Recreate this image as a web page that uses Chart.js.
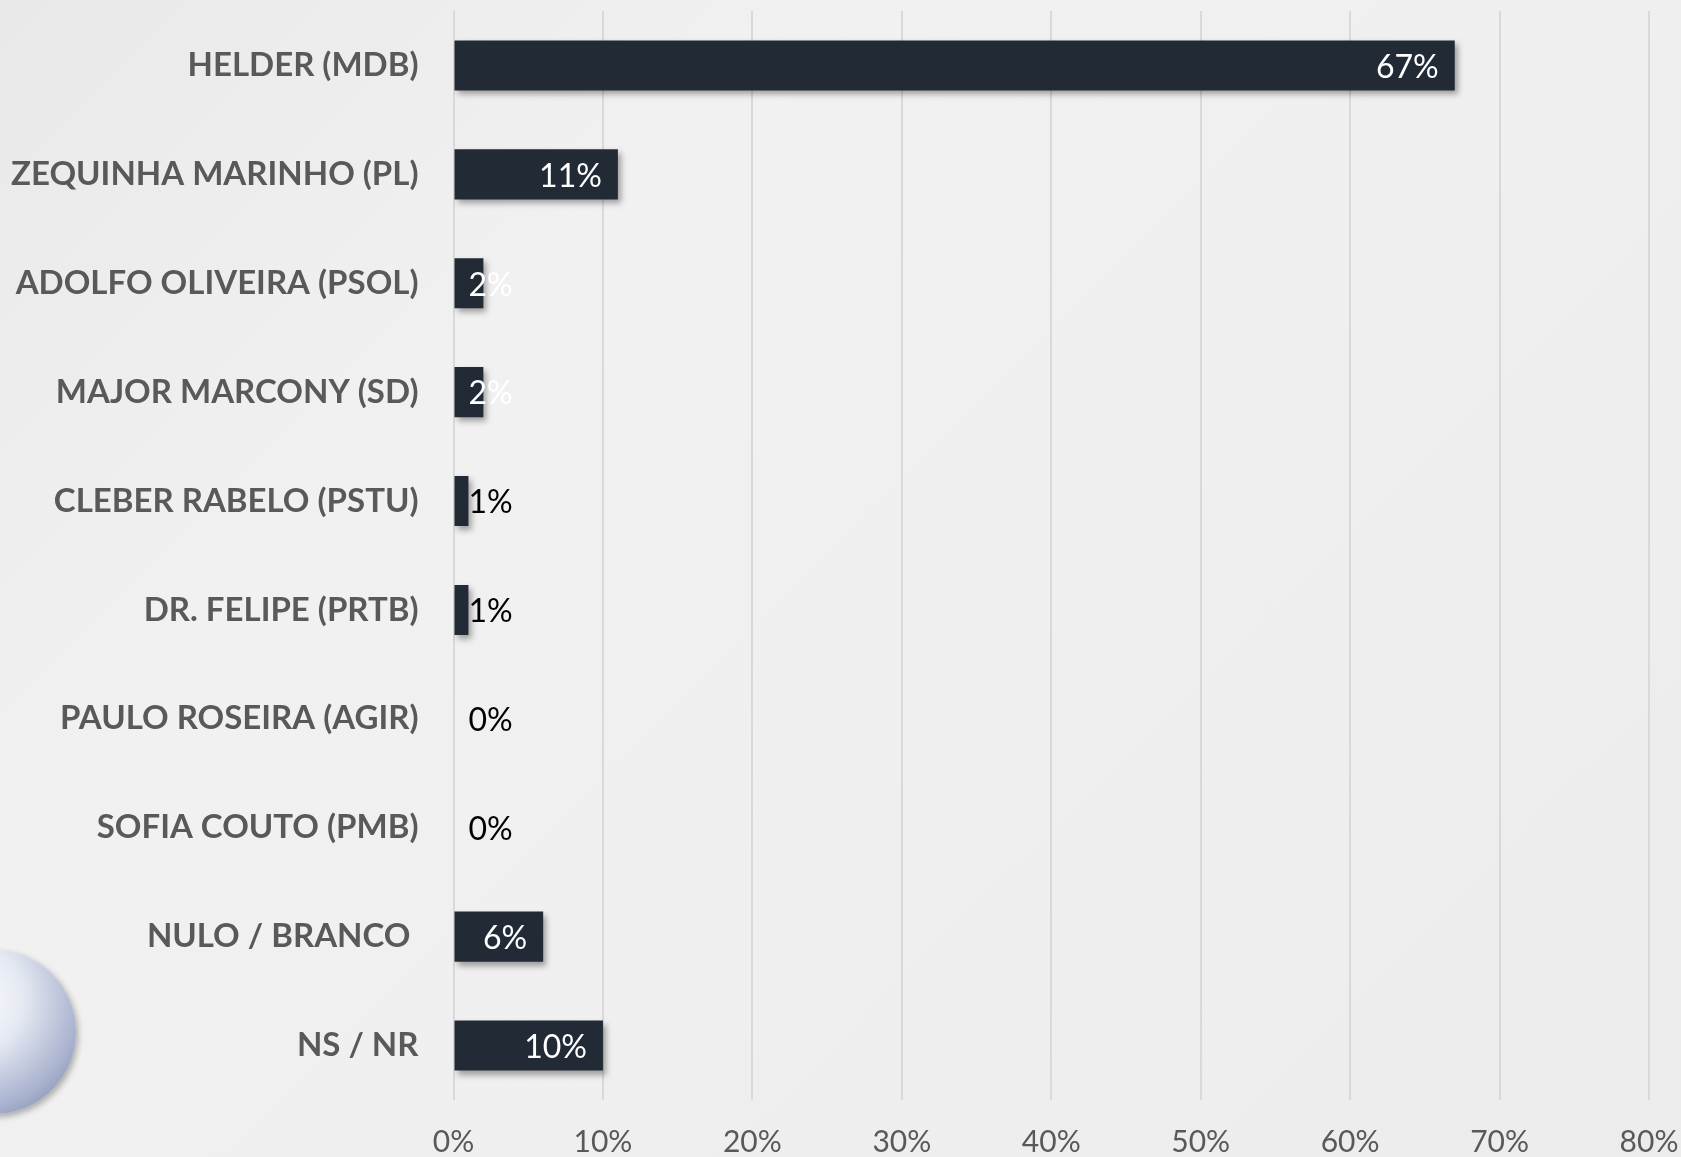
<!DOCTYPE html>
<html>
<head>
<meta charset="utf-8">
<script src="https://cdn.jsdelivr.net/npm/chart.js@4.4.1/dist/chart.umd.min.js"></script>
<style>
  html, body { margin: 0; padding: 0; }
  body {
    width: 1681px; height: 1157px; overflow: hidden; position: relative;
    background: linear-gradient(135deg, #e9e9e9 0%, #f1f1f1 30%, #efefef 60%, #ececec 100%);
  }
  .logo {
    position: absolute; left: -88px; top: 950px; width: 164px; height: 164px; border-radius: 50%;
    background: radial-gradient(circle at 35% 30%, #ffffff 0%, #e4e8f2 35%, #aab3cf 70%, #6f7a9e 100%);
    box-shadow: 2px 3px 6px rgba(0,0,0,0.3);
  }
  #wrap { position: absolute; left: 0; top: 0; width: 1681px; height: 1157px; }
</style>
</head>
<body>
<div class="logo"></div>
<div id="wrap"><canvas id="chart"></canvas></div>
<script>
const categories = [
  'HELDER (MDB)',
  'ZEQUINHA MARINHO (PL)',
  'ADOLFO OLIVEIRA (PSOL)',
  'MAJOR MARCONY (SD)',
  'CLEBER RABELO (PSTU)',
  'DR. FELIPE (PRTB)',
  'PAULO ROSEIRA (AGIR)',
  'SOFIA COUTO (PMB)',
  'NULO / BRANCO ',
  'NS / NR'
];
const values = [67, 11, 2, 2, 1, 1, 0, 0, 6, 10];
const labelColors = ['#ffffff', '#ffffff', '#ffffff', '#ffffff', '#000000', '#000000', '#000000', '#000000', '#ffffff', '#ffffff'];
const xTicks = [0, 10, 20, 30, 40, 50, 60, 70, 80];

const barShadow = {
  id: 'barShadow',
  beforeDatasetsDraw(chart) {
    const ctx = chart.ctx;
    ctx.save();
    ctx.shadowColor = 'rgba(0,0,0,0.35)';
    ctx.shadowBlur = 6;
    ctx.shadowOffsetX = 3;
    ctx.shadowOffsetY = 4;
  },
  afterDatasetsDraw(chart) {
    chart.ctx.restore();
  }
};

// value labels at inside end of each bar
const valueLabels = {
  id: 'valueLabels',
  afterDraw(chart) {
    const ctx = chart.ctx;
    const meta = chart.getDatasetMeta(0);
    const xs = chart.scales.x;
    ctx.save();
    ctx.font = '32px Lato, "Open Sans", sans-serif';
    ctx.textAlign = 'right';
    ctx.textBaseline = 'middle';
    meta.data.forEach((bar, i) => {
      const txt = values[i] + '%';
      const w = ctx.measureText(txt).width;
      const x = Math.max(xs.getPixelForValue(values[i]) - 16, xs.getPixelForValue(0) + 15 + w);
      ctx.fillStyle = labelColors[i];
      ctx.fillText(txt, x, bar.y + 2);
    });
    ctx.restore();
  }
};

new Chart(document.getElementById('chart'), {
  type: 'bar',
  data: {
    labels: categories,
    datasets: [{
      data: values,
      backgroundColor: '#222a35',
      borderWidth: 0,
      barPercentage: 0.46,
      categoryPercentage: 1
    }]
  },
  options: {
    indexAxis: 'y',
    responsive: true,
    maintainAspectRatio: false,
    animation: false,
    layout: { padding: { top: 11, right: 32, bottom: 0, left: 0 } },
    plugins: {
      legend: { display: false },
      tooltip: { enabled: false }
    },
    scales: {
      x: {
        min: 0,
        max: 80,
        afterBuildTicks: (scale) => { scale.ticks = xTicks.map(v => ({ value: v })); },
        afterFit: (scale) => {
          scale.height = 57;
          scale.paddingLeft = 0;
          scale.paddingRight = 0;
        },
        grid: { color: '#d9d9d9', lineWidth: 2, drawTicks: false },
        border: { display: false },
        ticks: {
          padding: 24,
          color: '#595959',
          font: { family: 'Lato, "Open Sans", sans-serif', size: 30 },
          callback: (v) => v + '%'
        }
      },
      y: {
        afterFit: (scale) => {
          scale.width = 453.5;
          scale.paddingTop = 0;
          scale.paddingBottom = 0;
        },
        grid: { display: false, drawTicks: false },
        border: { display: false },
        ticks: {
          padding: 35,
          color: '#595959',
          font: { family: 'Lato, "Open Sans", sans-serif', size: 33, weight: 'bold' }
        }
      }
    }
  },
  plugins: [barShadow, valueLabels]
});
</script>
</body>
</html>
